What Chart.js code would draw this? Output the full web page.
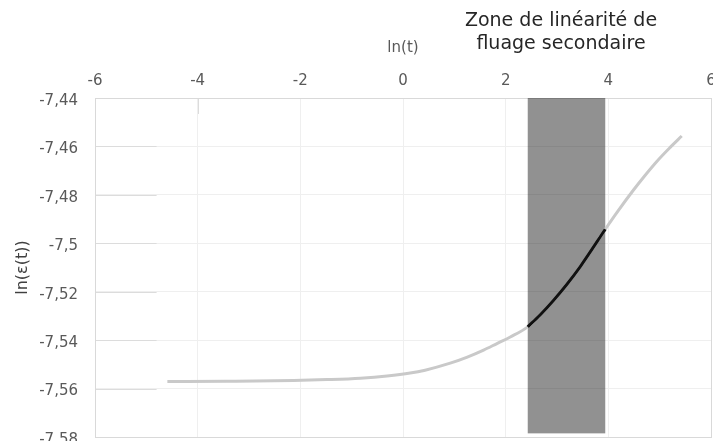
<!DOCTYPE html>
<html>
<head>
<meta charset="utf-8">
<script src="https://cdn.jsdelivr.net/npm/chart.js@4/dist/chart.umd.min.js"></script>
<style>
  html, body { margin: 0; padding: 0; background: #fff; overflow: hidden; width: 713px; height: 441px; }
  canvas { display: block; }
</style>
</head>
<body>
<canvas id="c" width="730" height="460"></canvas>
<script>
// Creep curve: ln(t) against ln(eps(t))
const lnTime   = [-4.59, -3.43, -2.13, -1.48, -0.83, -0.31, 0.14, 0.43, 0.92, 1.24, 1.57, 1.83, 2.09,
                  2.43, 2.67, 2.93, 3.19, 3.45, 3.94, 4.19, 4.49, 4.71, 4.94, 5.20, 5.43];
const lnStrain = [-7.5571, -7.5570, -7.5567, -7.5563, -7.5557, -7.5548, -7.5536, -7.5524, -7.5495, -7.5471, -7.5441, -7.5414, -7.5387,
                  -7.5345, -7.5296, -7.5236, -7.5170, -7.5097, -7.4942, -7.4866, -7.4780, -7.4721, -7.4663, -7.4605, -7.4557];

// Secondary creep (linear) part of the curve
const secLnTime   = [2.43, 2.67, 2.93, 3.19, 3.45, 3.94];
const secLnStrain = [-7.5345, -7.5296, -7.5236, -7.5170, -7.5097, -7.4942];

// Shaded secondary-creep zone
const bandStart = 2.43;
const bandEnd = 3.94;

const xTicks = [-6, -4, -2, 0, 2, 4, 6];
const yTicks = [-7.44, -7.46, -7.48, -7.50, -7.52, -7.54, -7.56, -7.58];

const zoneLabel = ['Zone de linéarité de', 'fluage secondaire'];
const xTitle = 'ln(t)';
const yTitle = 'ln(ε(t))';

const FONT = '"DejaVu Sans", sans-serif';
const TICK_COLOR = '#595959';

const toPoints = (xs, ys) => xs.map((x, i) => ({ x: x, y: ys[i] }));
const fmt = v => Number(v.toFixed(2)).toString().replace('.', ',');

// Shaded band + frame, drawn beneath the curves
const bandPlugin = {
  id: 'band',
  beforeDatasetsDraw(chart) {
    const { ctx, chartArea: a, scales: { x, y } } = chart;
    ctx.save();
    // short darker grid stubs along the left edge
    ctx.strokeStyle = '#dcdcdc';
    ctx.lineWidth = 1;
    const stubEnd = x.getPixelForValue(-4.8);
    yTicks.slice(1, -1).forEach(v => {
      const py = Math.round(y.getPixelForValue(v)) + 0.5;
      ctx.beginPath(); ctx.moveTo(a.left, py); ctx.lineTo(stubEnd, py); ctx.stroke();
    });
    const px4 = Math.round(x.getPixelForValue(-4)) + 0.5;
    ctx.beginPath(); ctx.moveTo(px4, a.top); ctx.lineTo(px4, y.getPixelForValue(-7.4466)); ctx.stroke();

    // frame
    ctx.strokeStyle = '#d9d9d9';
    ctx.strokeRect(Math.round(a.left) + 0.5, Math.round(a.top) + 0.5, Math.round(a.right - a.left), Math.round(a.bottom - a.top));

    // band
    const x0 = x.getPixelForValue(bandStart);
    const x1 = x.getPixelForValue(bandEnd);
    const yTop = y.getPixelForValue(-7.44);
    const yBot = y.getPixelForValue(-7.5785);
    ctx.fillStyle = 'rgba(0,0,0,0.43)';
    ctx.fillRect(x0, yTop, x1 - x0, yBot - yTop);
    ctx.restore();
  },
  afterDraw(chart) {
    const { ctx } = chart;
    ctx.save();
    ctx.fillStyle = '#262626';
    ctx.font = '19px ' + FONT;
    ctx.textAlign = 'center';
    ctx.textBaseline = 'alphabetic';
    ctx.fillText(zoneLabel[0], 561, 26);
    ctx.fillText(zoneLabel[1], 561, 49);
    ctx.restore();
  }
};

new Chart(document.getElementById('c'), {
  type: 'line',
  data: {
    datasets: [
      {
        data: toPoints(secLnTime, secLnStrain),
        borderColor: '#111111',
        borderWidth: 3,
        pointRadius: 0,
        cubicInterpolationMode: 'monotone',
        order: 0
      },
      {
        data: toPoints(lnTime, lnStrain),
        borderColor: '#c9c9c9',
        borderWidth: 3,
        pointRadius: 0,
        cubicInterpolationMode: 'monotone',
        order: 1
      }
    ]
  },
  options: {
    responsive: false,
    animation: false,
    layout: { padding: { left: 0, top: 0, right: 19, bottom: 23 } },
    plugins: { legend: { display: false }, tooltip: { enabled: false } },
    scales: {
      x: {
        type: 'linear',
        position: 'top',
        min: -6,
        max: 6,
        afterBuildTicks: s => { s.ticks = xTicks.map(v => ({ value: v })); },
        afterFit: s => { s.height = 98; s.paddingLeft = 0; s.paddingRight = 0; s.paddingTop = 0; s.paddingBottom = 0; },
        grid: { color: '#efefef', drawTicks: false },
        border: { display: false },
        ticks: { color: TICK_COLOR, font: { family: FONT, size: 15 }, padding: 8, maxRotation: 0 },
        title: { display: true, text: xTitle, color: TICK_COLOR, font: { family: FONT, size: 15 }, padding: { top: 39, bottom: 0 } }
      },
      y: {
        type: 'linear',
        min: -7.58,
        max: -7.44,
        afterBuildTicks: s => { s.ticks = yTicks.map(v => ({ value: v })); },
        afterFit: s => { s.width = 95; s.paddingLeft = 0; s.paddingRight = 0; s.paddingTop = 0; s.paddingBottom = 0; },
        grid: { color: '#efefef', drawTicks: false },
        border: { display: false },
        ticks: { color: TICK_COLOR, font: { family: FONT, size: 15 }, padding: 17, labelOffset: 3, callback: v => fmt(v) },
        title: { display: true, text: yTitle, color: '#404040', font: { family: FONT, size: 16 }, padding: { top: 13, bottom: 0 } }
      }
    }
  },
  plugins: [bandPlugin]
});
</script>
</body>
</html>
